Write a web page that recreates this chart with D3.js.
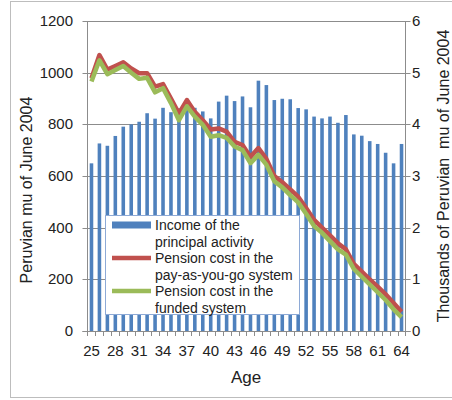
<!DOCTYPE html>
<html>
<head>
<meta charset="utf-8">
<script src="https://cdn.jsdelivr.net/npm/d3@7"></script>
<style>
  html, body { margin: 0; padding: 0; background: #fff; }
  svg { display: block; font-family: "Liberation Sans", Arial, sans-serif; }
</style>
</head>
<body>
<svg id="chart" width="452" height="400"></svg>
<script>
const ages = d3.range(25, 65);
const income = [649, 726, 717, 755, 791, 800, 810, 843, 822, 864,
                847, 862, 862, 864, 850, 823, 888, 911, 890, 908,
                866, 969, 952, 894, 899, 897, 863, 858, 830, 823,
                830, 806, 836, 761, 756, 735, 724, 690, 649, 724];
const payg = [4.89, 5.34, 5.06, 5.13, 5.20, 5.08, 4.99, 4.99, 4.73, 4.78,
              4.50, 4.21, 4.47, 4.24, 4.08, 3.90, 3.92, 3.86, 3.66, 3.60,
              3.37, 3.54, 3.33, 3.00, 2.88, 2.74, 2.60, 2.38, 2.15, 2.00,
              1.85, 1.70, 1.58, 1.30, 1.15, 1.00, 0.86, 0.71, 0.54, 0.37];
const funded = [4.83, 5.24, 4.97, 5.05, 5.13, 5.00, 4.88, 4.90, 4.62, 4.70,
                4.41, 4.08, 4.35, 4.15, 3.99, 3.76, 3.79, 3.74, 3.57, 3.50,
                3.25, 3.41, 3.22, 2.90, 2.78, 2.63, 2.49, 2.27, 2.03, 1.90,
                1.74, 1.58, 1.48, 1.20, 1.05, 0.90, 0.75, 0.60, 0.42, 0.27];
const leftTicks = [0, 200, 400, 600, 800, 1000, 1200];
const rightTicks = [0, 1, 2, 3, 4, 5, 6];
const xLabelAges = [25, 28, 31, 34, 37, 40, 43, 46, 49, 52, 55, 58, 61, 64];
const seriesNames = ["Income of the|principal activity",
                     "Pension cost in the|pay-as-you-go system",
                     "Pension cost in the|funded system"];

const svg = d3.select("#chart");
const L = 87.5, R = 405.5, T = 21, B = 331;

// outer border
svg.append("rect").attr("x", 10.5).attr("y", 1.5).attr("width", 450).attr("height", 396)
  .attr("fill", "#fff").attr("stroke", "#bdbdbd").attr("stroke-width", 1);

const x = d3.scaleBand().domain(ages).range([L, R]).paddingInner(0.55).paddingOuter(0.275);
const yL = d3.scaleLinear().domain([0, 1200]).range([B, T]);
const yR = d3.scaleLinear().domain([0, 6]).range([B, T]);
const step = x.step();
const off = (step - x.bandwidth()) / 2;

// gridlines
svg.append("g").selectAll("line").data(leftTicks.filter(d => d > 0)).join("line")
  .attr("x1", L).attr("x2", R)
  .attr("y1", d => Math.round(yL(d)) + 0.5).attr("y2", d => Math.round(yL(d)) + 0.5)
  .attr("stroke", "#8c8c8c").attr("stroke-width", 1);

// bars
svg.append("g").selectAll("rect").data(ages).join("rect")
  .attr("x", (d) => x(d))
  .attr("width", x.bandwidth())
  .attr("y", (d, i) => yL(income[i]))
  .attr("height", (d, i) => B - yL(income[i]))
  .attr("fill", "#4f81bd");

// axes lines
const axisCol = "#8c8c8c";
svg.append("line").attr("x1", L).attr("x2", L).attr("y1", T).attr("y2", B).attr("stroke", axisCol);
svg.append("line").attr("x1", R).attr("x2", R).attr("y1", T).attr("y2", B).attr("stroke", axisCol);
svg.append("line").attr("x1", L - 5).attr("x2", R + 5).attr("y1", B + 0.5).attr("y2", B + 0.5).attr("stroke", axisCol);

// left ticks
const gl = svg.append("g");
gl.selectAll("line").data(leftTicks).join("line")
  .attr("x1", L - 5).attr("x2", L)
  .attr("y1", d => Math.round(yL(d)) + 0.5).attr("y2", d => Math.round(yL(d)) + 0.5)
  .attr("stroke", axisCol);
gl.selectAll("text").data(leftTicks).join("text")
  .attr("x", 73).attr("y", d => yL(d) + 5)
  .attr("text-anchor", "end").attr("font-size", 15).attr("fill", "#222")
  .text(d => d);

// right ticks
const gr = svg.append("g");
gr.selectAll("line").data(rightTicks).join("line")
  .attr("x1", R).attr("x2", R + 5)
  .attr("y1", d => Math.round(yR(d)) + 0.5).attr("y2", d => Math.round(yR(d)) + 0.5)
  .attr("stroke", axisCol);
gr.selectAll("text").data(rightTicks).join("text")
  .attr("x", 412).attr("y", d => yR(d) + 5)
  .attr("text-anchor", "start").attr("font-size", 15).attr("fill", "#222")
  .text(d => d);

// x tick marks (between categories)
const bounds = ages.map(a => x(a) - off).concat([x(ages[ages.length - 1]) + x.bandwidth() + off]);
svg.append("g").selectAll("line").data(bounds).join("line")
  .attr("x1", d => Math.round(d) + 0.5).attr("x2", d => Math.round(d) + 0.5)
  .attr("y1", B).attr("y2", B + 5).attr("stroke", axisCol);
svg.append("g").selectAll("text").data(xLabelAges).join("text")
  .attr("x", d => x(d) + x.bandwidth() / 2).attr("y", 356)
  .attr("text-anchor", "middle").attr("font-size", 15).attr("fill", "#222")
  .text(d => d);

// axis titles
svg.append("text").attr("x", 246).attr("y", 383).attr("text-anchor", "middle")
  .attr("font-size", 17).attr("fill", "#222").text("Age");
svg.append("text").attr("transform", "translate(32,190) rotate(-90)").attr("text-anchor", "middle")
  .attr("font-size", 16).attr("fill", "#222").text("Peruvian mu of June 2004");
svg.append("text").attr("transform", "translate(449,176) rotate(-90)").attr("text-anchor", "middle")
  .attr("font-size", 16).attr("fill", "#222").style("white-space", "pre")
  .text("Thousands of Peruvian\u00a0 mu of June 2004");

// lines
const line = vals => d3.line()
  .x((d) => x(d) + x.bandwidth() / 2)
  .y((d, i) => yR(vals[i]))(ages);
svg.append("path").attr("d", line(payg)).attr("fill", "none")
  .attr("stroke", "#c0504d").attr("stroke-width", 4.5).attr("stroke-linejoin", "round");
svg.append("path").attr("d", line(funded)).attr("fill", "none")
  .attr("stroke", "#9bbb59").attr("stroke-width", 4.5).attr("stroke-linejoin", "round");

// legend
const lg = svg.append("g");
lg.append("rect").attr("x", 105.5).attr("y", 215.5).attr("width", 194).attr("height", 99)
  .attr("fill", "#fff").attr("stroke", "#8eaad6").attr("stroke-width", 1);
const swY = [225, 258, 291];
const colors = ["#4f81bd", "#c0504d", "#9bbb59"];
seriesNames.forEach((name, i) => {
  if (i === 0) {
    lg.append("rect").attr("x", 112).attr("y", swY[i] - 3.5).attr("width", 39).attr("height", 7).attr("fill", colors[i]);
  } else {
    lg.append("line").attr("x1", 112).attr("x2", 151).attr("y1", swY[i]).attr("y2", swY[i])
      .attr("stroke", colors[i]).attr("stroke-width", 4.5);
  }
  const parts = name.split("|");
  parts.forEach((p, j) => {
    lg.append("text").attr("x", 155).attr("y", swY[i] + 5 + j * 16.5)
      .attr("font-size", 14).attr("fill", "#222").text(p);
  });
});
</script>
</body>
</html>
